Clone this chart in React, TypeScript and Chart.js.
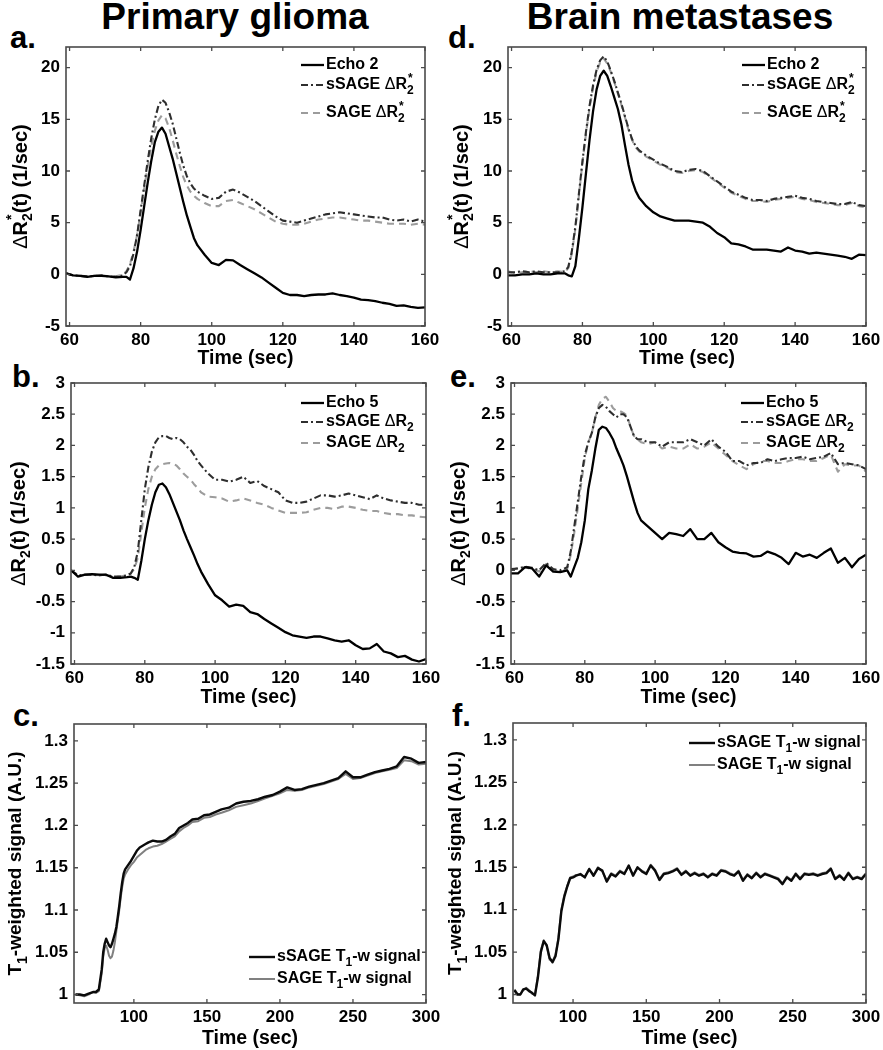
import React, { useEffect, useRef } from 'react';
import { Chart, registerables } from 'chart.js';
Chart.register(...registerables);

const FONT = '"Liberation Sans", Arial, Helvetica, sans-serif';

// ---------- DATA ----------
// time grid (sec) for DSC panels a, b, d, e
const T_DSC = [
  59, 61, 63, 65, 67, 69, 71, 73, 75,
  76, 77, 78, 79, 80, 81, 82, 83, 84, 85, 86, 87, 88, 89, 90, 91, 92, 93, 94, 95, 96,
  98, 100, 102, 104, 106, 108, 110, 112, 114, 116, 118, 120, 122, 124, 126, 128, 130, 132, 134, 136,
  138, 140, 142, 144, 146, 148, 150, 152, 154, 156, 158, 160,
];

// panel a : primary glioma, Delta R2*
const A_ECHO2 = [
  0.1, -0.1, -0.15, -0.25, -0.15, -0.15, -0.2, -0.3, -0.25,
  -0.25, -0.5, 0.6, 2.2, 4.3, 6.6, 8.9, 11.0, 12.8, 13.8, 14.2, 13.6, 12.4, 11.2, 9.8, 8.4, 7.0, 5.7, 4.6, 3.5, 2.8,
  1.9, 1.1, 0.9, 1.4, 1.35, 0.9, 0.5, 0.1, -0.3, -0.8, -1.3, -1.8, -2.0, -2.0, -2.1, -2.0, -1.95, -1.95, -1.85, -2.0,
  -2.1, -2.25, -2.45, -2.5, -2.6, -2.75, -2.85, -3.05, -3.0, -3.15, -3.25, -3.2,
];
const A_SSAGE = [
  0.1, -0.1, -0.15, -0.2, -0.15, -0.1, -0.2, -0.25, -0.1,
  0.2, 0.8, 2.0, 3.8, 6.2, 8.6, 11.0, 13.2, 15.0, 16.3, 16.9, 16.6, 15.7, 14.6, 13.2, 11.8, 10.5, 9.5, 8.8, 8.3, 8.0,
  7.6, 7.3, 7.4, 8.0, 8.2, 7.9, 7.5, 7.1, 6.6, 6.1, 5.6, 5.2, 5.1, 5.0, 5.2, 5.4, 5.6, 5.8, 5.9, 6.0,
  5.9, 5.8, 5.7, 5.6, 5.5, 5.5, 5.3, 5.2, 5.3, 5.1, 5.3, 5.1,
];
const A_SAGE = [
  0.1, -0.1, -0.15, -0.2, -0.15, -0.1, -0.2, -0.2, -0.05,
  0.3, 1.0, 2.2, 3.8, 6.0, 8.3, 10.5, 12.4, 13.9, 14.9, 15.4, 15.1, 14.2, 13.0, 11.7, 10.5, 9.4, 8.6, 8.0, 7.6, 7.3,
  6.9, 6.6, 6.6, 7.1, 7.2, 6.9, 6.6, 6.3, 5.9, 5.5, 5.1, 4.9, 4.8, 4.8, 4.9, 5.1, 5.3, 5.4, 5.5, 5.5,
  5.4, 5.3, 5.2, 5.2, 5.1, 5.0, 4.9, 4.9, 4.9, 4.8, 4.9, 4.8,
];

// panel b : primary glioma, Delta R2
const B_ECHO5 = [
  0.0, -0.1, -0.07, -0.06, -0.07, -0.07, -0.12, -0.12, -0.11,
  -0.1, -0.12, -0.15, 0.15, 0.5, 0.8, 1.05, 1.25, 1.37, 1.39, 1.33, 1.22, 1.08, 0.94, 0.8, 0.64, 0.5, 0.37, 0.24, 0.1, -0.02,
  -0.22, -0.4, -0.48, -0.58, -0.55, -0.57, -0.67, -0.7, -0.78, -0.85, -0.92, -0.99, -1.04, -1.06, -1.08, -1.06, -1.06, -1.09, -1.12, -1.14,
  -1.12, -1.2, -1.26, -1.25, -1.18, -1.3, -1.33, -1.39, -1.37, -1.43, -1.46, -1.42,
];
const B_SSAGE = [
  0.0, -0.08, -0.07, -0.07, -0.08, -0.07, -0.1, -0.1, -0.08,
  -0.05, 0.05, 0.3, 0.8, 1.3, 1.65, 1.9, 2.05, 2.13, 2.15, 2.15, 2.12, 2.1, 2.12, 2.1, 2.05, 1.98, 1.93, 1.85, 1.75, 1.68,
  1.55, 1.45, 1.45, 1.42, 1.45, 1.5, 1.4, 1.43, 1.35, 1.3, 1.25, 1.12, 1.08, 1.08, 1.1, 1.15, 1.2, 1.2, 1.18, 1.2,
  1.23, 1.2, 1.17, 1.14, 1.2, 1.15, 1.12, 1.1, 1.08, 1.08, 1.05, 1.05,
];
const B_SAGE = [
  0.0, -0.08, -0.07, -0.07, -0.08, -0.08, -0.1, -0.1, -0.08,
  -0.05, 0.02, 0.2, 0.6, 1.0, 1.3, 1.5, 1.62, 1.68, 1.7, 1.71, 1.72, 1.7, 1.68, 1.62, 1.55, 1.5, 1.45, 1.38, 1.32, 1.25,
  1.18, 1.17, 1.15, 1.1, 1.12, 1.15, 1.12, 1.08, 1.05, 1.0, 0.96, 0.92, 0.92, 0.92, 0.93, 0.97, 1.0, 1.0, 0.98, 1.02,
  1.02, 1.0, 0.97, 0.95, 0.95, 0.92, 0.9, 0.9, 0.88, 0.88, 0.86, 0.85,
];

// panel d : brain metastases, Delta R2*
const D_ECHO2 = [
  -0.1, -0.1, 0.0, 0.0, 0.1, 0.0, 0.0, 0.1, 0.1,
  -0.1, -0.2, 0.8, 3.5, 6.5, 9.8, 13.0, 15.8, 17.9, 19.2, 19.7, 19.2, 18.2, 17.1, 16.0, 14.5, 12.5, 10.6, 9.1, 8.1, 7.4,
  6.6, 6.0, 5.6, 5.4, 5.2, 5.2, 5.2, 5.1, 5.0, 4.6, 4.0, 3.6, 3.0, 2.9, 2.7, 2.4, 2.4, 2.4, 2.3, 2.2,
  2.6, 2.3, 2.2, 2.0, 2.1, 2.0, 1.9, 1.8, 1.7, 1.5, 1.9, 1.85,
];
const D_SSAGE = [
  0.2, 0.2, 0.3, 0.2, 0.3, 0.2, 0.2, 0.2, 0.3,
  0.7, 2.2, 4.6, 7.8, 10.9, 13.8, 16.3, 18.3, 19.8, 20.7, 21.1, 20.6, 19.7, 18.7, 17.6, 16.5, 15.3, 14.1, 13.1, 12.4, 12.0,
  11.5, 11.1, 10.7, 10.4, 10.0, 9.9, 10.1, 10.2, 10.0, 9.5, 9.0, 8.5, 8.0, 7.7, 7.4, 7.2, 7.2, 7.1, 7.3, 7.4,
  7.5, 7.6, 7.4, 7.3, 7.1, 7.0, 6.9, 6.8, 6.8, 7.0, 6.7, 6.6,
];
const D_SAGE = [
  0.3, 0.1, 0.2, 0.3, 0.2, 0.3, 0.2, 0.3, 0.2,
  0.6, 2.0, 4.4, 7.6, 10.8, 13.6, 16.1, 18.1, 19.6, 20.5, 20.9, 20.4, 19.6, 18.6, 17.5, 16.4, 15.2, 14.0, 13.0, 12.3, 11.9,
  11.4, 11.0, 10.6, 10.3, 9.9, 9.8, 10.0, 10.1, 9.9, 9.4, 8.9, 8.4, 7.9, 7.6, 7.3, 7.1, 7.1, 7.0, 7.2, 7.3,
  7.4, 7.5, 7.3, 7.2, 7.0, 6.9, 6.8, 6.7, 6.7, 6.9, 6.6, 6.5,
];

// panel e : brain metastases, Delta R2
const E_ECHO5 = [
  -0.05, -0.05, 0.05, 0.03, -0.1, 0.08, -0.02, -0.03, 0.0,
  -0.1, 0.05, 0.2, 0.45, 0.8, 1.3, 1.6, 1.95, 2.25, 2.3, 2.28, 2.2, 2.1, 1.95, 1.82, 1.68, 1.5, 1.3, 1.1, 0.92, 0.8,
  0.7, 0.6, 0.5, 0.6, 0.58, 0.55, 0.66, 0.5, 0.5, 0.6, 0.45, 0.37, 0.3, 0.28, 0.27, 0.22, 0.23, 0.3, 0.26, 0.2,
  0.1, 0.28, 0.22, 0.25, 0.2, 0.28, 0.35, 0.12, 0.2, 0.05, 0.18, 0.25,
];
const E_SSAGE = [
  0.02, 0.03, 0.06, 0.04, 0.0, 0.12, 0.02, 0.0, 0.05,
  0.3, 0.7, 1.1, 1.5, 1.85, 2.05, 2.2, 2.45, 2.6, 2.65, 2.62, 2.55, 2.5, 2.45, 2.5, 2.5, 2.45, 2.3, 2.15, 2.1, 2.1,
  2.05, 2.05, 1.98, 2.05, 2.05, 2.05, 2.1, 2.05, 2.0, 2.1, 1.98, 1.9, 1.75, 1.75, 1.68, 1.72, 1.72, 1.78, 1.75, 1.78,
  1.8, 1.8, 1.82, 1.78, 1.8, 1.82, 1.88, 1.7, 1.72, 1.7, 1.68, 1.62,
];
const E_SAGE = [
  0.0, 0.04, 0.05, 0.02, -0.02, 0.1, 0.0, -0.03, 0.03,
  0.25, 0.6, 1.0, 1.4, 1.8, 2.05, 2.2, 2.45, 2.65, 2.75, 2.78, 2.7, 2.6, 2.55, 2.55, 2.52, 2.48, 2.3, 2.15, 2.1, 2.05,
  2.02, 2.05, 1.95, 1.98, 1.95, 1.95, 2.02, 1.95, 1.98, 2.05, 1.95, 1.85, 1.75, 1.68, 1.62, 1.7, 1.75, 1.75, 1.72, 1.72,
  1.75, 1.78, 1.78, 1.75, 1.75, 1.8, 1.85, 1.58, 1.7, 1.68, 1.68, 1.58,
];

// panel c : primary glioma, T1-weighted signal
const T_C = [
  60, 63, 66, 69, 72, 74, 76,
  78, 79, 80, 81, 82, 83, 84, 85, 86, 87, 88, 89, 90, 91, 92, 93, 94,
  96, 98, 100, 102, 104, 106, 108, 110,
  113, 116, 119, 122, 125, 128, 131, 134, 137,
  140, 144, 148, 152, 156, 160,
  165, 170, 175, 180, 185, 190, 195, 200, 205, 210, 215, 220, 225, 230, 235, 240, 245, 250, 255, 260,
  265, 270, 275, 280, 285, 290, 295, 300,
];
const C_SSAGE = [
  1.0, 1.0, 0.999, 1.001, 1.003, 1.003, 1.006,
  1.03, 1.05, 1.06, 1.066, 1.062, 1.058, 1.056, 1.06, 1.066, 1.072, 1.08, 1.092, 1.105, 1.12, 1.133, 1.143, 1.148,
  1.153, 1.158, 1.164, 1.17, 1.174, 1.176, 1.178, 1.18,
  1.182, 1.181, 1.181, 1.183, 1.187, 1.19, 1.197, 1.2, 1.203,
  1.207, 1.208, 1.212, 1.213, 1.216, 1.219,
  1.221, 1.226, 1.228, 1.229, 1.231, 1.234, 1.236, 1.24, 1.245, 1.242, 1.243, 1.246, 1.248, 1.25, 1.253, 1.256, 1.264, 1.257, 1.257, 1.26,
  1.263, 1.265, 1.267, 1.27, 1.281, 1.279, 1.274, 1.275,
];
const C_SAGE = [
  1.0, 0.999, 0.998, 1.0, 1.003, 1.002, 1.004,
  1.025, 1.045, 1.055, 1.058, 1.053, 1.046, 1.043, 1.045, 1.052, 1.062, 1.075, 1.088, 1.1, 1.115, 1.127, 1.137, 1.142,
  1.148, 1.153, 1.157, 1.162, 1.165, 1.168, 1.171, 1.173,
  1.175, 1.176, 1.178, 1.181, 1.184, 1.187, 1.193, 1.197, 1.2,
  1.204, 1.205, 1.209, 1.21, 1.213, 1.215,
  1.218, 1.222, 1.224, 1.226, 1.229, 1.232, 1.235, 1.238, 1.242, 1.241, 1.242, 1.245, 1.247, 1.249, 1.252, 1.255, 1.261, 1.255, 1.256, 1.259,
  1.262, 1.264, 1.266, 1.268, 1.277, 1.276, 1.272, 1.273,
];

// panel f : brain metastases, T1-weighted signal
const T_F = [
  60, 62, 64, 66, 68, 70, 72, 74, 76, 78, 80, 82, 84, 86, 88, 90, 92, 94, 96, 98, 100,
  102, 105, 108, 111, 114, 117, 120, 123, 126, 129,
  132, 135, 138, 141, 144, 147, 150, 153, 156, 159,
  162, 165, 168, 171, 174, 177, 180, 183, 186, 189,
  192, 195, 198, 201, 204, 207, 210, 213, 216, 219,
  222, 225, 228, 231, 234, 237, 240, 243, 246, 249,
  252, 255, 258, 261, 264, 267, 270, 273, 276, 279,
  282, 285, 288, 291, 294, 297, 300,
];
const F_SSAGE = [
  1.005, 1.0, 1.0, 1.006, 1.007, 1.004, 1.002, 0.999, 1.02, 1.05, 1.063, 1.058, 1.043, 1.038, 1.045, 1.065, 1.098, 1.115, 1.127, 1.137, 1.138,
  1.14, 1.142, 1.138, 1.148, 1.14, 1.149, 1.146, 1.133, 1.142, 1.139,
  1.145, 1.142, 1.152, 1.14, 1.15, 1.145, 1.142, 1.152, 1.146, 1.135,
  1.142, 1.143, 1.145, 1.148, 1.141, 1.145, 1.14, 1.143, 1.14, 1.142,
  1.138, 1.142, 1.14, 1.146, 1.145, 1.142, 1.14, 1.145, 1.134, 1.141,
  1.137, 1.143, 1.138, 1.142, 1.14, 1.138, 1.136, 1.13, 1.138, 1.134,
  1.142, 1.136, 1.142, 1.141, 1.142, 1.14, 1.142, 1.143, 1.148, 1.136,
  1.14, 1.135, 1.143, 1.136, 1.138, 1.136, 1.142,
];
const F_SAGE = [
  1.006, 1.001, 1.0, 1.005, 1.008, 1.005, 1.001, 1.0, 1.022, 1.052, 1.064, 1.057, 1.041, 1.039, 1.047, 1.067, 1.1, 1.117, 1.128, 1.138, 1.139,
  1.141, 1.141, 1.139, 1.147, 1.141, 1.15, 1.145, 1.134, 1.143, 1.14,
  1.146, 1.143, 1.151, 1.141, 1.149, 1.146, 1.143, 1.153, 1.147, 1.136,
  1.143, 1.144, 1.146, 1.149, 1.142, 1.146, 1.141, 1.144, 1.141, 1.143,
  1.139, 1.143, 1.141, 1.147, 1.146, 1.143, 1.141, 1.146, 1.135, 1.142,
  1.138, 1.144, 1.139, 1.143, 1.141, 1.139, 1.137, 1.131, 1.139, 1.135,
  1.143, 1.137, 1.143, 1.142, 1.143, 1.141, 1.143, 1.144, 1.149, 1.137,
  1.141, 1.136, 1.144, 1.137, 1.139, 1.137, 1.143,
];

// ---------- STYLES / LAYOUT ----------
type Seg = { t: string; k?: 'sub' | 'sup' | 'stack'; w?: string };
const STY = {
  echo: { color: '#000000', width: 2.3, dash: [] as number[] },
  ssage: { color: '#2e2e2e', width: 2.1, dash: [7, 3, 2, 3] },
  sage: { color: '#9c9c9c', width: 2.1, dash: [7, 5] },
  t1s: { color: '#0a0a0a', width: 2.4, dash: [] as number[] },
  t1g: { color: '#808080', width: 2.0, dash: [] as number[] },
};

const R2S = (p: string): Seg[] => [{ t: p }, { t: 'Δ', w: 'normal' }, { t: 'R' }, { t: '2', k: 'sub' }, { t: '*', k: 'stack' }];
const R2 = (p: string): Seg[] => [{ t: p }, { t: 'Δ', w: 'normal' }, { t: 'R' }, { t: '2', k: 'sub' }];
const T1W = (p: string): Seg[] => [{ t: p }, { t: 'T' }, { t: '1', k: 'sub' }, { t: '-w signal' }];

const YT_R2S: Seg[] = [{ t: 'Δ', w: 'normal' }, { t: 'R' }, { t: '2', k: 'sub' }, { t: '*', k: 'stack' }, { t: '(t) (1/sec)' }];
const YT_R2: Seg[] = [{ t: 'Δ', w: 'normal' }, { t: 'R' }, { t: '2', k: 'sub' }, { t: '(t) (1/sec)' }];
const YT_T1: Seg[] = [{ t: 'T' }, { t: '1', k: 'sub' }, { t: '-weighted signal (A.U.)' }];

const PANELS = [
  {
    key: 'a', canvas: { x: 0, y: 40, w: 440, h: 330 }, area: { l: 66, t: 47, r: 425, b: 326 },
    x: [59, 160, 20], y: [-5, 22, 5], time: T_DSC,
    series: [{ v: A_ECHO2, s: STY.echo }, { v: A_SSAGE, s: STY.ssage }, { v: A_SAGE, s: STY.sage }],
    legend: { x0: -124, x1: -101, tx: -99, rows: [18, 38, 66], size: 16, segs: [[{ t: 'Echo 2' }], R2S('sSAGE '), R2S('SAGE ')] },
    yTitle: YT_R2S, yTitleSize: 20, yOff: -45,
  },
  {
    key: 'b', canvas: { x: 0, y: 371, w: 440, h: 338 }, area: { l: 71, t: 383, r: 426, b: 664 },
    x: [59, 160, 20], y: [-1.5, 3, 0.5], time: T_DSC,
    series: [{ v: B_ECHO5, s: STY.echo }, { v: B_SSAGE, s: STY.ssage }, { v: B_SAGE, s: STY.sage }],
    legend: { x0: -125, x1: -102, tx: -100, rows: [20, 39, 60], size: 16, segs: [[{ t: 'Echo 5' }], R2('sSAGE '), R2('SAGE ')] },
    yTitle: YT_R2, yTitleSize: 20, yOff: -52,
  },
  {
    key: 'c', canvas: { x: 0, y: 710, w: 440, h: 340 }, area: { l: 74, t: 724, r: 426, b: 1003 },
    x: [59, 300, 50], y: [0.99, 1.32, 0.05], time: T_C,
    series: [{ v: C_SSAGE, s: STY.t1s }, { v: C_SAGE, s: STY.t1g }],
    legend: { x0: -177, x1: -151, tx: -149, rows: [233, 255], size: 16, segs: [T1W('sSAGE '), T1W('SAGE ')] },
    yTitle: YT_T1, yTitleSize: 19, yOff: -58,
  },
  {
    key: 'd', canvas: { x: 440, y: 40, w: 443, h: 330 }, area: { l: 508, t: 47, r: 866, b: 326 },
    x: [59, 160, 20], y: [-5, 22, 5], time: T_DSC,
    series: [{ v: D_ECHO2, s: STY.echo }, { v: D_SSAGE, s: STY.ssage }, { v: D_SAGE, s: STY.sage }],
    legend: { x0: -124, x1: -101, tx: -99, rows: [18, 38, 66], size: 16, segs: [[{ t: 'Echo 2' }], R2S('sSAGE '), R2S('SAGE ')] },
    yTitle: YT_R2S, yTitleSize: 20, yOff: -46,
  },
  {
    key: 'e', canvas: { x: 440, y: 371, w: 443, h: 338 }, area: { l: 511, t: 383, r: 866, b: 664 },
    x: [59, 160, 20], y: [-1.5, 3, 0.5], time: T_DSC,
    series: [{ v: E_ECHO5, s: STY.echo }, { v: E_SSAGE, s: STY.ssage }, { v: E_SAGE, s: STY.sage }],
    legend: { x0: -125, x1: -102, tx: -100, rows: [20, 39, 60], size: 16, segs: [[{ t: 'Echo 5' }], R2('sSAGE '), R2('SAGE ')] },
    yTitle: YT_R2, yTitleSize: 20, yOff: -52,
  },
  {
    key: 'f', canvas: { x: 440, y: 710, w: 443, h: 340 }, area: { l: 513, t: 723, r: 866, b: 1003 },
    x: [59, 300, 50], y: [0.99, 1.32, 0.05], time: T_F,
    series: [{ v: F_SSAGE, s: STY.t1s }, { v: F_SAGE, s: STY.t1g }],
    legend: { x0: -177, x1: -151, tx: -149, rows: [20, 42], size: 16, segs: [T1W('sSAGE '), T1W('SAGE ')] },
    yTitle: YT_T1, yTitleSize: 19, yOff: -57,
  },
];

const COL_TITLES = [
  { text: 'Primary glioma', cx: 235, base: 29 },
  { text: 'Brain metastases', cx: 680, base: 29 },
];
const PANEL_LETTERS = [
  { text: 'a.', x: 10, base: 48 }, { text: 'b.', x: 12, base: 387 }, { text: 'c.', x: 13, base: 726 },
  { text: 'd.', x: 448, base: 48 }, { text: 'e.', x: 450, base: 387 }, { text: 'f.', x: 452, base: 726 },
];

// ---------- DRAWING HELPERS ----------
function drawRich(ctx: CanvasRenderingContext2D, segs: Seg[], x: number, y: number, size: number, align: 'left' | 'center') {
  const items: { t: string; font: string; sx: number; dy: number }[] = [];
  let cursor = 0;
  let lastStart = 0;
  for (const s of segs) {
    const small = !!s.k;
    const fs = small ? Math.round(size * 0.72) : size;
    const font = `${s.w || 'bold'} ${fs}px ${FONT}`;
    ctx.font = font;
    const w = ctx.measureText(s.t).width;
    let sx: number;
    if (s.k === 'stack') {
      sx = lastStart + 1;
      cursor = Math.max(cursor, lastStart + w + 1);
    } else {
      sx = cursor;
      lastStart = cursor;
      cursor += w;
    }
    const dy = s.k === 'sub' ? size * 0.36 : s.k === 'sup' || s.k === 'stack' ? -size * 0.42 : 0;
    items.push({ t: s.t, font, sx, dy });
  }
  const x0 = align === 'center' ? x - cursor / 2 : x;
  ctx.textAlign = 'left';
  ctx.textBaseline = 'middle';
  ctx.fillStyle = '#000';
  for (const it of items) {
    ctx.font = it.font;
    ctx.fillText(it.t, x0 + it.sx, y + it.dy);
  }
}

const fmt = (v: number) => String(Math.round(v * 1000) / 1000);

function makeDecor(p: any) {
  return {
    id: 'decor_' + p.key,
    afterDatasetsDraw(chart: any) {
      const ctx: CanvasRenderingContext2D = chart.ctx;
      const a = chart.chartArea;
      const xs = chart.scales.x;
      const ys = chart.scales.y;
      const TL = 4;
      ctx.save();
      ctx.setLineDash([]);
      ctx.strokeStyle = '#4a4a4a';
      ctx.lineWidth = 1.6;
      ctx.strokeRect(a.left, a.top, a.right - a.left, a.bottom - a.top);
      ctx.lineWidth = 1.3;
      ctx.beginPath();
      xs.ticks.forEach((t: any) => {
        const px = xs.getPixelForValue(t.value);
        ctx.moveTo(px, a.bottom); ctx.lineTo(px, a.bottom - TL);
        ctx.moveTo(px, a.top); ctx.lineTo(px, a.top + TL);
      });
      ys.ticks.forEach((t: any) => {
        const py = ys.getPixelForValue(t.value);
        ctx.moveTo(a.left, py); ctx.lineTo(a.left + TL, py);
        ctx.moveTo(a.right, py); ctx.lineTo(a.right - TL, py);
      });
      ctx.stroke();

      // legend
      const L = p.legend;
      L.segs.forEach((segs: Seg[], i: number) => {
        const st = p.series[i].s;
        const yy = a.top + L.rows[i];
        ctx.strokeStyle = st.color;
        ctx.lineWidth = st.width;
        ctx.setLineDash(st.dash);
        ctx.beginPath();
        ctx.moveTo(a.right + L.x0, yy);
        ctx.lineTo(a.right + L.x1, yy);
        ctx.stroke();
        ctx.setLineDash([]);
        drawRich(ctx, segs, a.right + L.tx, yy, L.size, 'left');
      });

      // y-axis title
      ctx.translate(a.left + p.yOff, (a.top + a.bottom) / 2);
      ctx.rotate(-Math.PI / 2);
      drawRich(ctx, p.yTitle, 0, 0, p.yTitleSize, 'center');
      ctx.restore();
    },
  };
}

function buildConfig(p: any): any {
  const ca = p.canvas;
  const ar = p.area;
  const yW = ar.l - ca.x;
  const xH = ca.y + ca.h - ar.b;
  const tickFont = { family: FONT, size: 17, weight: 'bold' };
  return {
    type: 'line',
    data: {
      datasets: p.series.map((s: any, i: number) => ({
        label: 'series ' + i,
        data: p.time.map((t: number, j: number) => ({ x: t, y: s.v[j] })),
        borderColor: s.s.color,
        borderWidth: s.s.width,
        borderDash: s.s.dash,
        pointRadius: 0,
        fill: false,
        tension: 0,
        borderJoinStyle: 'round',
      })),
    },
    options: {
      animation: false,
      responsive: false,
      maintainAspectRatio: false,
      devicePixelRatio: 1,
      events: [],
      layout: { padding: { left: 0, top: ar.t - ca.y, right: ca.x + ca.w - ar.r, bottom: 0 } },
      plugins: { legend: { display: false }, tooltip: { enabled: false } },
      scales: {
        x: {
          type: 'linear', position: 'bottom', min: p.x[0], max: p.x[1],
          grid: { display: false, drawTicks: false, tickLength: 0 }, border: { display: false },
          ticks: { stepSize: p.x[2], includeBounds: false, autoSkip: false, maxRotation: 0, padding: 4, color: '#000', font: tickFont, callback: (v: number) => fmt(v) },
          title: { display: true, text: 'Time (sec)', color: '#000', font: { family: FONT, size: 19.5, weight: 'bold' }, padding: { top: 0, bottom: 0 } },
          afterFit: (s: any) => { s.height = xH; s.paddingLeft = 0; s.paddingRight = 0; },
        },
        y: {
          type: 'linear', position: 'left', min: p.y[0], max: p.y[1],
          grid: { display: false, drawTicks: false, tickLength: 0 }, border: { display: false },
          ticks: { stepSize: p.y[2], includeBounds: false, autoSkip: false, padding: 6, color: '#000', font: tickFont, callback: (v: number) => fmt(v) },
          afterFit: (s: any) => { s.width = yW; s.paddingTop = 0; s.paddingBottom = 0; },
        },
      },
    },
    plugins: [makeDecor(p)],
  };
}

function Panel({ p }: { p: any }) {
  const ref = useRef<HTMLCanvasElement>(null);
  useEffect(() => {
    if (!ref.current) return;
    const chart = new Chart(ref.current, buildConfig(p));
    return () => chart.destroy();
  }, [p]);
  const c = p.canvas;
  return (
    <canvas
      ref={ref}
      width={c.w}
      height={c.h}
      style={{ position: 'absolute', left: c.x, top: c.y, width: c.w, height: c.h }}
    />
  );
}

export default function App() {
  return (
    <div style={{ position: 'absolute', left: 0, top: 0, width: 883, height: 1050, background: '#fff', overflow: 'hidden', fontFamily: FONT }}>
      {COL_TITLES.map((t) => (
        <div key={t.text} style={{ position: 'absolute', left: t.cx - 220, width: 440, top: t.base - 0.8465 * 37, fontSize: 37, lineHeight: '37px', fontWeight: 'bold', textAlign: 'center', whiteSpace: 'nowrap', color: '#000' }}>
          {t.text}
        </div>
      ))}
      {PANEL_LETTERS.map((t) => (
        <div key={t.text} style={{ position: 'absolute', left: t.x, top: t.base - 0.8465 * 31, fontSize: 31, lineHeight: '31px', fontWeight: 'bold', whiteSpace: 'nowrap', color: '#000' }}>
          {t.text}
        </div>
      ))}
      {PANELS.map((p) => (
        <Panel key={p.key} p={p} />
      ))}
    </div>
  );
}
